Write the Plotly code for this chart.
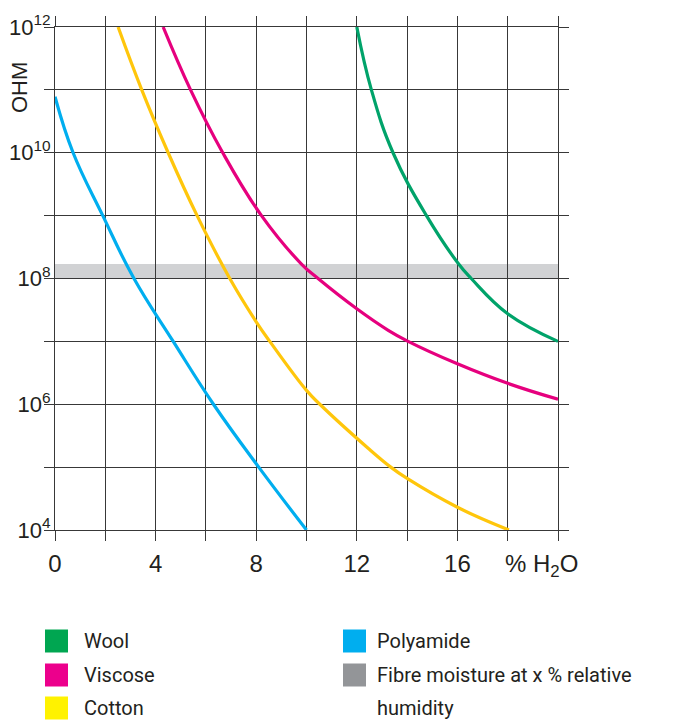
import plotly.graph_objects as go

# ---- data ----
polyamide_x = [0, 0.72, 1.9, 3.14, 4.7, 6.3, 8.1, 10.0]
polyamide_y = [7.8e10, 1e10, 1e9, 1e8, 1e7, 1e6, 1e5, 1e4]

cotton_x = [2.51, 3.45, 4.5, 5.65, 6.95, 8.0, 8.54, 10.0, 10.53, 12.45, 13.35, 14.0, 16.0, 18.05]
cotton_y = [1e12, 1e11, 1e10, 1e9, 1e8, 2.05e7, 1e7, 1.66e6, 1e6, 2.0e5, 1e5, 6.6e4, 2.3e4, 1e4]

viscose_x = [4.30, 5.39, 6.67, 8.21, 9.8, 10.46, 12.0, 13.25, 14.0, 16.0, 18.0, 20.0]
viscose_y = [1e12, 1e11, 1e10, 1e9, 1.7e8, 1e8, 3.3e7, 1.5e7, 1.02e7, 4.4e6, 2.15e6, 1.2e6]

wool_x = [12.0, 12.58, 13.44, 14.77, 16.05, 16.55, 18.0, 20.0]
wool_y = [1e12, 1e11, 1e10, 1e9, 1.7e8, 1e8, 2.75e7, 1e7]

band_x = [0, 20]
band_y = [1e8, 1.7e8]

x_tickvals = [0, 2, 4, 6, 8, 10, 12, 14, 16, 18, 20]
x_ticktext = ["0", "", "4", "", "8", "", "12", "", "16", "", ""]
y_tickvals = [1e4, 1e5, 1e6, 1e7, 1e8, 1e9, 1e10, 1e11, 1e12]
y_ticktext = ["10<sup>4</sup>", "", "10<sup>6</sup>", "", "10<sup>8</sup>", "",
              "10<sup>10</sup>", "", "10<sup>12</sup>"]

legend_left = ["Wool", "Viscose", "Cotton"]
legend_left_colors = ["#00A651", "#EC008C", "#FFF200"]
legend_right = ["Polyamide", "Fibre moisture at x % relative"]
legend_right_colors = ["#00AEEF", "#939598"]

GREEN = "#00A36A"
MAGENTA = "#E6007E"
YELLOW = "#FFC60B"
BLUE = "#00AEEF"
GRID = "#383838"

fig = go.Figure()
for xs, ys, c, name in [
    (wool_x, wool_y, GREEN, "Wool"),
    (viscose_x, viscose_y, MAGENTA, "Viscose"),
    (cotton_x, cotton_y, YELLOW, "Cotton"),
    (polyamide_x, polyamide_y, BLUE, "Polyamide"),
]:
    fig.add_trace(go.Scatter(x=xs, y=ys, mode="lines", name=name,
                             line=dict(color=c, width=3.2, shape="spline", smoothing=1.2),
                             cliponaxis=True, hoverinfo="skip"))

fig.add_shape(type="rect", xref="x", yref="y", x0=band_x[0], x1=band_x[1],
              y0=band_y[0], y1=band_y[1], fillcolor="#D1D2D4", line=dict(width=0),
              layer="below")

FONT = "Liberation Sans Narrow, Liberation Sans, Arial"
xtickfont = dict(family=FONT, size=24, color="#231F20")
ytickfont = dict(family=FONT, size=22, color="#231F20")
fig.update_xaxes(range=[0, 20], tickvals=x_tickvals, ticktext=x_ticktext, automargin=False,
                 showgrid=True, gridcolor=GRID, gridwidth=1.2,
                 ticks="outside", ticklen=10, tickwidth=1.2, tickcolor=GRID,
                 showline=True, linecolor=GRID, linewidth=1.2, mirror="ticks",
                 zeroline=False, tickfont=xtickfont, ticklabelstandoff=2)
fig.update_yaxes(type="log", range=[4, 12], tickvals=y_tickvals, ticktext=y_ticktext, automargin=False,
                 showgrid=True, gridcolor=GRID, gridwidth=1.2,
                 ticks="outside", ticklen=10, tickwidth=1.2, tickcolor=GRID,
                 showline=True, linecolor=GRID, linewidth=1.2, mirror="ticks",
                 zeroline=False, tickfont=ytickfont, ticklabelstandoff=-11)

OFF = 8               # page body margin
L, T, PW, PH = 55, 27, 503, 503   # plot area in page pixels
W, H = 699 - OFF, 720 - OFF

def px(xp):
    return (xp - L) / PW

def py(yp):
    return (T + PH - yp) / PH

anns = []
anns.append(dict(text="% H<sub>2</sub>O", xref="x", yref="paper", x=20, y=py(565),
                 xanchor="center", yanchor="middle", xshift=-17, showarrow=False,
                 font=xtickfont))
anns.append(dict(text="OHM", xref="paper", yref="paper", x=px(19), y=py(88),
                 xanchor="center", yanchor="middle", textangle=-90, showarrow=False,
                 font=dict(family=FONT, size=22, color="#231F20")))

legfont = dict(family="Roboto, Noto Sans", size=20, color="#231F20")
shapes = []
rows = [641, 675, 708]
for i, (t, c) in enumerate(zip(legend_left, legend_left_colors)):
    shapes.append(dict(type="rect", xref="paper", yref="paper", x0=px(45), x1=px(68),
                       y0=py(rows[i] - 11.5), y1=py(rows[i] + 11.5), fillcolor=c, line=dict(width=0)))
    anns.append(dict(text=t, xref="paper", yref="paper", x=px(82), y=py(rows[i]),
                     xanchor="left", yanchor="middle", showarrow=False, font=legfont))
for i, (t, c) in enumerate(zip(legend_right, legend_right_colors)):
    shapes.append(dict(type="rect", xref="paper", yref="paper", x0=px(343), x1=px(366),
                       y0=py(rows[i] - 11.5), y1=py(rows[i] + 11.5), fillcolor=c, line=dict(width=0)))
    anns.append(dict(text=t, xref="paper", yref="paper", x=px(375), y=py(rows[i]),
                     xanchor="left", yanchor="middle", showarrow=False, font=legfont))
anns.append(dict(text="humidity", xref="paper", yref="paper", x=px(375), y=py(rows[2]),
                 xanchor="left", yanchor="middle", showarrow=False, font=legfont))

for s in shapes:
    fig.add_shape(**s)

fig.update_layout(width=W, height=H,
                  margin=dict(l=L - OFF, r=W - (L - OFF) - PW, t=T - OFF, b=H - (T - OFF) - PH),
                  plot_bgcolor="white", paper_bgcolor="white", showlegend=False,
                  annotations=anns)

fig.write_html("out.html")
